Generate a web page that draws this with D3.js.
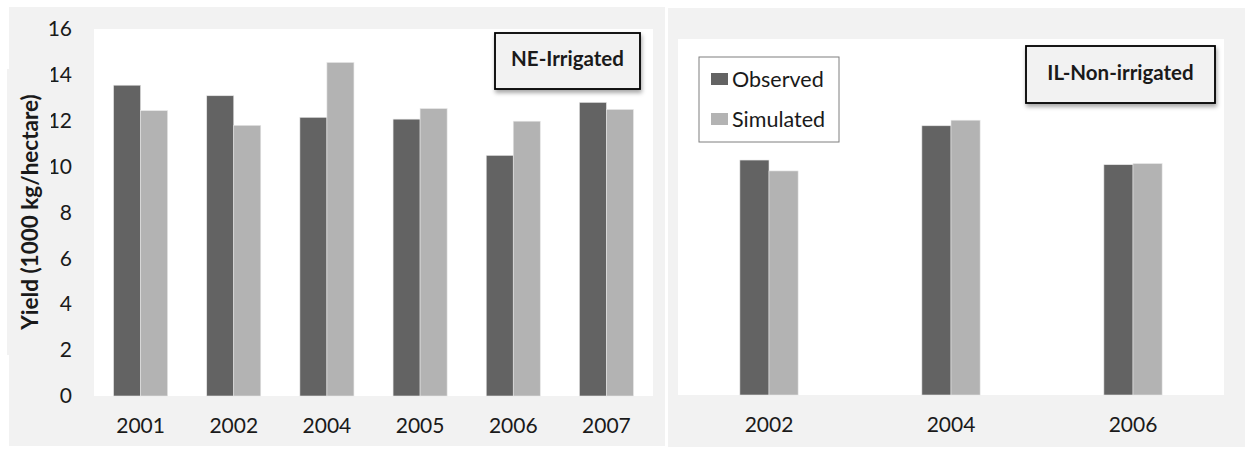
<!DOCTYPE html>
<html>
<head>
<meta charset="utf-8">
<script src="https://cdn.jsdelivr.net/npm/d3@7"></script>
<style>
  body { margin: 0; background: #fff; }
  text { font-family: Lato, "Open Sans", sans-serif; fill: #1a1a1a; }
</style>
</head>
<body>
<div id="chart"></div>
<script>
// NE-Irrigated panel
var neYears = ["2001", "2002", "2004", "2005", "2006", "2007"];
var neObserved = [13.55, 13.09, 12.15, 12.07, 10.49, 12.8];
var neSimulated = [12.44, 11.8, 14.54, 12.53, 11.98, 12.49];

// IL-Non-irrigated panel
var ilYears = ["2002", "2004", "2006"];
var ilObserved = [10.56, 12.1, 10.35];
var ilSimulated = [10.07, 12.35, 10.4];

var yTicks = [0, 2, 4, 6, 8, 10, 12, 14, 16];
var seriesNames = ["Observed", "Simulated"];
var colors = ["#636363", "#b3b3b3"];

var svg = d3.select("#chart").append("svg")
    .attr("width", 1245).attr("height", 449);

var defs = svg.append("defs");
var f = defs.append("filter").attr("id", "shadow")
    .attr("x", "-10%").attr("y", "-10%").attr("width", "130%").attr("height", "150%");
f.append("feDropShadow").attr("dx", 1).attr("dy", 3).attr("stdDeviation", 2)
    .attr("flood-color", "#000").attr("flood-opacity", 0.35);

function drawPanel(opt) {
    var g = svg.append("g");

    // outer gray chart area
    g.append("rect")
        .attr("x", opt.box[0]).attr("y", opt.box[1])
        .attr("width", opt.box[2]).attr("height", opt.box[3])
        .attr("fill", "#f2f2f2");

    // white plot area
    g.append("rect")
        .attr("x", opt.plot[0]).attr("y", opt.plot[1])
        .attr("width", opt.plot[2] - opt.plot[0]).attr("height", opt.plot[3] - opt.plot[1])
        .attr("fill", "#fff");

    var x0 = d3.scaleBand()
        .domain(opt.years)
        .range([opt.plot[0], opt.plot[2]])
        .paddingInner(opt.pad).paddingOuter(opt.pad / 2);

    var x1 = d3.scaleBand()
        .domain(seriesNames)
        .range([0, x0.bandwidth()]);

    var y = d3.scaleLinear().domain([0, 16]).range([opt.plot[3], opt.plot[1]]);

    var rows = opt.years.map(function(yr, i) {
        return {year: yr, values: [opt.obs[i], opt.sim[i]]};
    });

    var groups = g.selectAll(".grp")
        .data(rows)
        .enter().append("g")
        .attr("class", "grp")
        .attr("transform", function(d) { return "translate(" + x0(d.year) + ",0)"; });

    groups.selectAll("rect")
        .data(function(d) { return d.values.map(function(v, j) { return {v: v, s: seriesNames[j], c: colors[j]}; }); })
        .enter().append("rect")
        .attr("x", function(d) { return x1(d.s); })
        .attr("width", x1.bandwidth())
        .attr("y", function(d) { return y(d.v); })
        .attr("height", function(d) { return y(0) - y(d.v); })
        .attr("fill", function(d) { return d.c; })
        .attr("stroke", "#e6e6e6").attr("stroke-width", 0.6);

    // x axis labels
    var xAxis = g.append("g")
        .attr("transform", "translate(0," + opt.plot[3] + ")")
        .call(d3.axisBottom(x0).tickSize(0).tickPadding(22));
    xAxis.select(".domain").remove();
    xAxis.selectAll("text")
        .style("font-family", "Lato, 'Open Sans', sans-serif")
        .style("font-size", "21px").attr("fill", "#1a1a1a");

    if (opt.showY) {
        var yAxis = g.append("g")
            .attr("transform", "translate(" + opt.plot[0] + ",0)")
            .call(d3.axisLeft(y).tickValues(yTicks).tickSize(0).tickPadding(22));
        yAxis.select(".domain").remove();
        yAxis.selectAll("text")
            .style("font-family", "Lato, 'Open Sans', sans-serif")
            .style("font-size", "21px").attr("fill", "#1a1a1a");
    }

    // panel title box
    var t = opt.title;
    g.append("rect")
        .attr("x", t.x).attr("y", t.y).attr("width", t.w).attr("height", t.h)
        .attr("fill", "#f2f2f2").attr("stroke", "#000").attr("stroke-width", 1.8)
        .attr("filter", "url(#shadow)");
    g.append("text")
        .attr("x", t.x + t.w / 2).attr("y", t.y + t.h / 2 - 3)
        .attr("text-anchor", "middle").attr("dominant-baseline", "central")
        .style("font-size", "20.5px").style("font-weight", "bold")
        .text(t.text);

    return g;
}

drawPanel({
    box: [9, 7, 656, 439],
    plot: [94, 29, 653, 396],
    years: neYears, obs: neObserved, sim: neSimulated,
    pad: 0.42, showY: true,
    title: {x: 495, y: 33, w: 145, h: 56, text: "NE-Irrigated"}
});

// y axis title box + label
svg.append("rect").attr("x", 7).attr("y", 69).attr("width", 44).attr("height", 286).attr("fill", "#f2f2f2");
svg.append("text")
    .attr("transform", "translate(29,212) rotate(-90)")
    .attr("text-anchor", "middle").attr("dominant-baseline", "central")
    .style("font-size", "22.5px").style("font-weight", "bold")
    .text("Yield (1000 kg/hectare)");

var right = drawPanel({
    box: [668, 8, 577, 439],
    plot: [678, 39, 1224, 395],
    years: ilYears, obs: ilObserved, sim: ilSimulated,
    pad: 0.68, showY: false,
    title: {x: 1026, y: 46, w: 189, h: 57, text: "IL-Non-irrigated"}
});

// legend
var legend = right.append("g").attr("transform", "translate(699,57)");
legend.append("rect").attr("width", 140).attr("height", 85)
    .attr("fill", "#fff").attr("stroke", "#7f7f7f").attr("stroke-width", 1);
var items = legend.selectAll(".item").data(seriesNames).enter().append("g")
    .attr("transform", function(d, i) { return "translate(12," + (22 + i * 40) + ")"; });
items.append("rect").attr("y", -6).attr("width", 17).attr("height", 12)
    .attr("fill", function(d, i) { return colors[i]; });
items.append("text").attr("x", 21).attr("dominant-baseline", "central")
    .style("font-size", "21.5px").text(function(d) { return d; });
</script>
</body>
</html>
